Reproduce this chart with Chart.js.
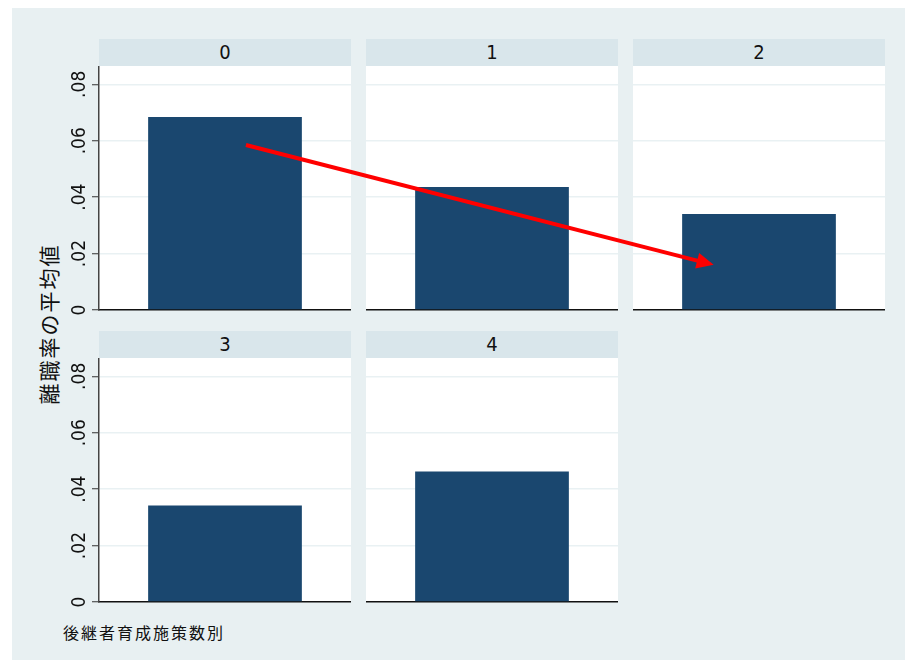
<!DOCTYPE html>
<html>
<head>
<meta charset="utf-8">
<script src="https://cdn.jsdelivr.net/npm/chart.js@4"></script>
<style>
  body { margin: 0; background: #ffffff; }
  #page { position: relative; width: 905px; height: 660px; overflow: hidden; }
  #bg { position: absolute; left: 12px; top: 8px; width: 893px; height: 652px; background: #e8f0f2; }
  .strip { position: absolute; height: 27px; line-height: 27px; background: #d9e6eb; text-align: center;
    font-family: "Liberation Sans Narrow", "DejaVu Sans Condensed", sans-serif; font-size: 20px; color: #111; }
  .panel { position: absolute; }
  #ytitle { position: absolute; left: 48px; top: 324px; transform: translate(-50%, -50%) rotate(-90deg);
    white-space: nowrap; font-family: "Noto Sans CJK JP", sans-serif; font-size: 21px; letter-spacing: 2px; color: #111; }
  #note { position: absolute; left: 63px; top: 620px; white-space: nowrap;
    font-family: "Noto Sans CJK JP", sans-serif; font-size: 16px; letter-spacing: 2px; color: #111; }
  #overlay { position: absolute; left: 0; top: 0; pointer-events: none; }
</style>
</head>
<body>
<div id="page">
  <div id="bg"></div>
  <div id="ytitle">離職率の平均値</div>
  <div id="note">後継者育成施策数別</div>
  <canvas id="overlay" width="905" height="660"></canvas>
</div>
<script>
// data
const groups = ["0", "1", "2", "3", "4"];
const meanRates = [0.0684, 0.0436, 0.034, 0.0342, 0.0463];
const yTickValues = [0, 0.02, 0.04, 0.06, 0.08];
const yTickLabels = ["0", ".02", ".04", ".06", ".08"];
const yMax = 0.0865;

// arrow annotation: from panel 0 to panel 2 (x in category units, y in data units)
const arrowStart = { panel: 0, x: 0.083, y: 0.0585 };
const arrowEnd = { panel: 2, x: -0.18, y: 0.016 };

const colLeft = [99, 366, 633];
const rowTop = [39, 331];
const panelW = 252;
const stripH = 27;
const plotH = 244;
const axisW = 59;
const padBottom = 10;

const barColor = "#1a476f";
const gridColor = "#e9f1f3";
const tickFont = "19px 'Liberation Sans Narrow', 'DejaVu Sans Condensed', sans-serif";

const page = document.getElementById("page");
const overlay = document.getElementById("overlay");

const whiteArea = {
  id: "whiteArea",
  beforeDraw(chart) {
    const a = chart.chartArea;
    const ctx = chart.ctx;
    ctx.save();
    ctx.fillStyle = "#ffffff";
    ctx.fillRect(a.left, a.top, a.right - a.left, a.bottom - a.top);
    ctx.restore();
  },
};

// y tick labels written upward, like the original
const sideLabels = {
  id: "sideLabels",
  afterDraw(chart, args, opts) {
    if (!opts.show) return;
    const y = chart.scales.y;
    const ctx = chart.ctx;
    ctx.save();
    ctx.font = tickFont;
    ctx.fillStyle = "#111";
    ctx.textAlign = "center";
    ctx.textBaseline = "middle";
    y.ticks.forEach((t, idx) => {
      const py = y.getPixelForValue(t.value);
      ctx.save();
      ctx.translate(y.right - 19, py);
      ctx.rotate(-Math.PI / 2);
      ctx.fillText(yTickLabels[idx], 0, 0);
      ctx.restore();
    });
    ctx.restore();
  },
};

const charts = [];
const offsets = [];

groups.forEach((g, i) => {
  const col = i % 3;
  const row = Math.floor(i / 3);
  const first = col === 0;

  const strip = document.createElement("div");
  strip.className = "strip";
  strip.style.left = colLeft[col] + "px";
  strip.style.top = rowTop[row] + "px";
  strip.style.width = panelW + "px";
  strip.textContent = g;
  page.insertBefore(strip, overlay);

  const left = colLeft[col] - (first ? axisW : 0);
  const top = rowTop[row] + stripH;
  const w = panelW + (first ? axisW : 0);
  const h = plotH + padBottom;

  const box = document.createElement("div");
  box.className = "panel";
  box.style.left = left + "px";
  box.style.top = top + "px";
  box.style.width = w + "px";
  box.style.height = h + "px";
  const cv = document.createElement("canvas");
  box.appendChild(cv);
  page.insertBefore(box, overlay);
  offsets.push({ left: left, top: top });

  const chart = new Chart(cv, {
    type: "bar",
    data: {
      labels: [g],
      datasets: [
        {
          data: [meanRates[i]],
          backgroundColor: barColor,
          borderWidth: 0,
          barPercentage: 0.61,
          categoryPercentage: 1,
        },
      ],
    },
    options: {
      responsive: true,
      maintainAspectRatio: false,
      animation: false,
      layout: { padding: { left: 0, right: 0, top: 0, bottom: padBottom } },
      plugins: {
        legend: { display: false },
        tooltip: { enabled: false },
        sideLabels: { show: first },
      },
      scales: {
        x: {
          grid: { display: false, drawTicks: false },
          ticks: { display: false },
          border: { display: true, color: "#111", width: 1.5 },
          afterFit: (s) => {
            s.height = 0;
            s.paddingLeft = 0;
            s.paddingRight = 0;
          },
        },
        y: {
          min: 0,
          max: yMax,
          afterBuildTicks: (s) => {
            s.ticks = yTickValues.map((v) => ({ value: v }));
          },
          afterFit: (s) => {
            s.width = first ? axisW : 0;
            s.paddingTop = 0;
            s.paddingBottom = 0;
          },
          grid: {
            color: gridColor,
            lineWidth: 1.5,
            drawTicks: first,
            tickLength: 7,
            tickColor: "#333",
            tickWidth: 1,
          },
          border: { display: first, color: "#444", width: 1.5 },
          ticks: { display: false },
        },
      },
    },
    plugins: [whiteArea, sideLabels],
  });
  charts.push(chart);
});

// red arrow across panels
function drawArrow() {
  const ctx = overlay.getContext("2d");
  ctx.clearRect(0, 0, overlay.width, overlay.height);
  const c1 = charts[arrowStart.panel];
  const c2 = charts[arrowEnd.panel];
  const o1 = offsets[arrowStart.panel];
  const o2 = offsets[arrowEnd.panel];
  const x1 = o1.left + c1.scales.x.getPixelForValue(arrowStart.x);
  const y1 = o1.top + c1.scales.y.getPixelForValue(arrowStart.y);
  const x2 = o2.left + c2.scales.x.getPixelForValue(arrowEnd.x);
  const y2 = o2.top + c2.scales.y.getPixelForValue(arrowEnd.y);
  const ang = Math.atan2(y2 - y1, x2 - x1);
  const headLen = 17;
  const headHalf = 8;
  const bx = x2 - headLen * Math.cos(ang);
  const by = y2 - headLen * Math.sin(ang);

  ctx.strokeStyle = "#ff0000";
  ctx.fillStyle = "#ff0000";
  ctx.lineWidth = 4;
  ctx.beginPath();
  ctx.moveTo(x1, y1);
  ctx.lineTo(bx + 2 * Math.cos(ang), by + 2 * Math.sin(ang));
  ctx.stroke();

  ctx.beginPath();
  ctx.moveTo(x2, y2);
  ctx.lineTo(bx - headHalf * Math.sin(ang), by + headHalf * Math.cos(ang));
  ctx.lineTo(bx + headHalf * Math.sin(ang), by - headHalf * Math.cos(ang));
  ctx.closePath();
  ctx.fill();
}
drawArrow();
</script>
</body>
</html>
